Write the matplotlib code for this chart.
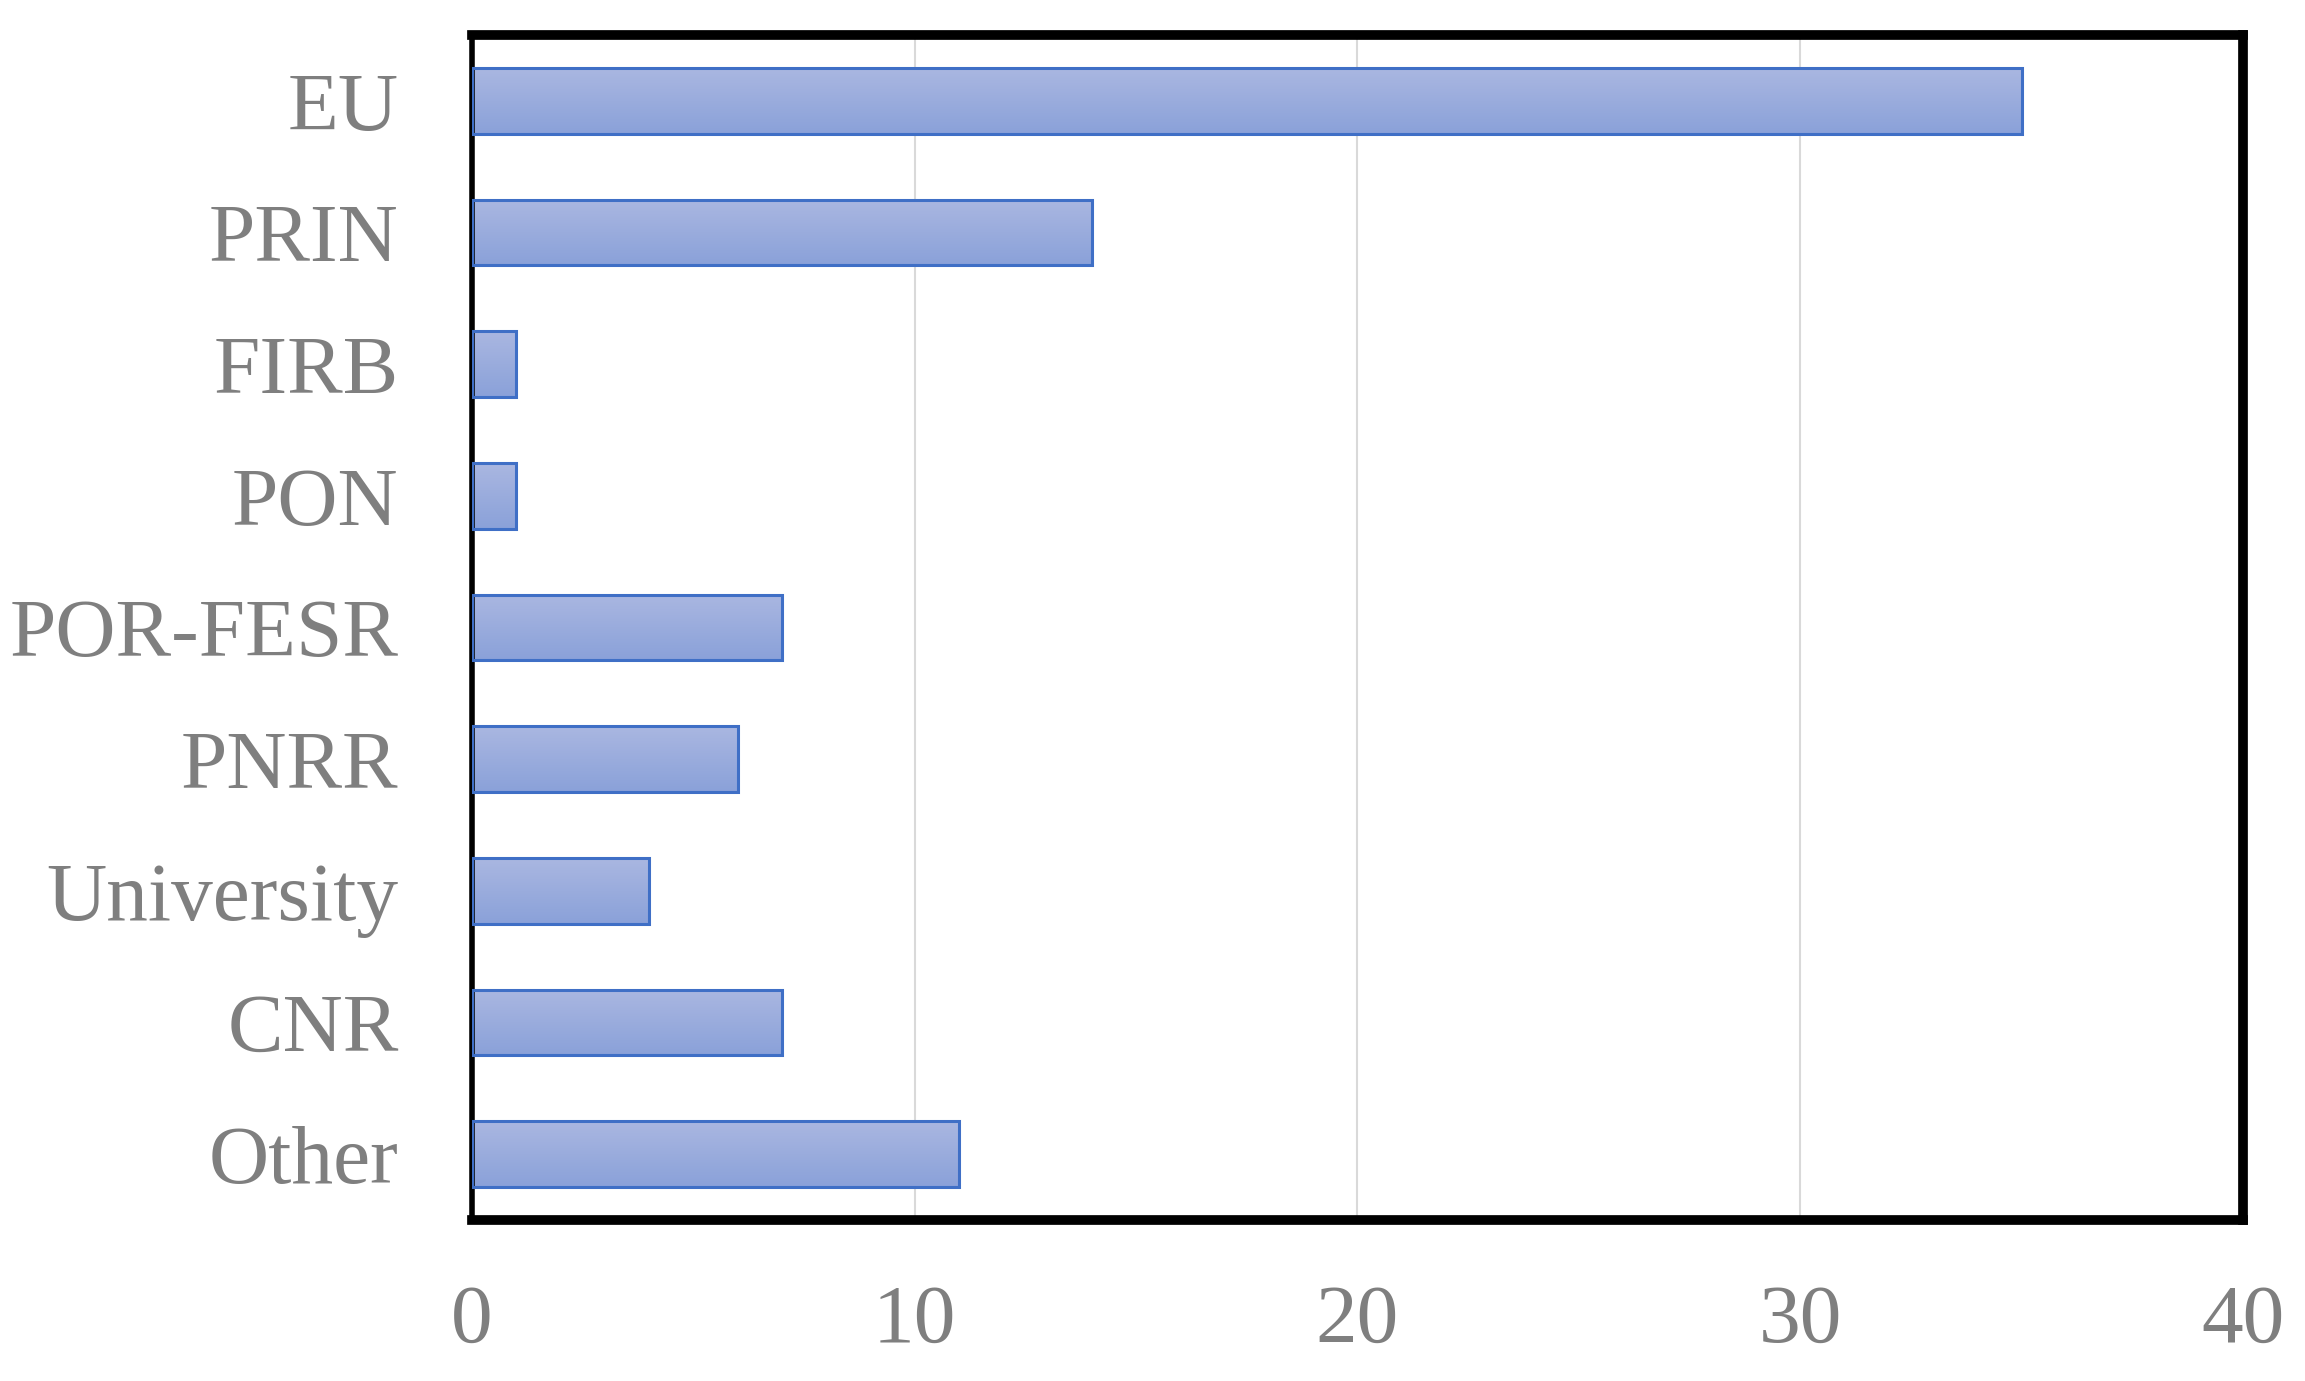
import numpy as np
import matplotlib
matplotlib.use("Agg")
import matplotlib.pyplot as plt
from matplotlib.colors import LinearSegmentedColormap

categories = ["EU", "PRIN", "FIRB", "PON", "POR-FESR", "PNRR", "University", "CNR", "Other"]
values = [35, 14, 1, 1, 7, 6, 4, 7, 11]
xticks = [0, 10, 20, 30, 40]

plt.rcParams['font.family'] = ['Liberation Serif', 'DejaVu Serif']

fig = plt.figure(figsize=(23.05, 13.81), dpi=100)
ax = fig.add_axes([472/2305, 1 - 1220/1381, (2243-472)/2305, (1220-35)/1381])

y = np.arange(len(categories))
h = 0.5
grad = np.linspace(0, 1, 256).reshape(-1, 1)
cmap = LinearSegmentedColormap.from_list("g", ["#aab7e1", "#8aa1d9"])

bars = ax.barh(y, values, height=h, color="none", edgecolor="#3f6fc6", linewidth=2.2, zorder=3)
for b in bars:
    x0, y0 = b.get_x(), b.get_y()
    w, hh = b.get_width(), b.get_height()
    im = ax.imshow(grad, extent=[x0, x0 + w, y0 + hh, y0], aspect='auto', cmap=cmap,
                   origin='upper', zorder=2)
    im.set_clip_path(b)

ax.set_xlim(0, 40)
ax.set_ylim(len(categories) - 0.5, -0.5)
ax.set_xticks(xticks)
ax.set_xticklabels([str(t) for t in xticks])
ax.set_yticks(y)
ax.set_yticklabels(categories)
ax.xaxis.grid(True, color="#d9d9d9", linewidth=1.5, zorder=0)
ax.set_axisbelow(True)
ax.tick_params(axis='both', length=0, labelsize=60, colors="#7f7f7f")
ax.tick_params(axis='y', pad=53)
ax.tick_params(axis='x', pad=46)
for s in ["top", "right", "bottom"]:
    ax.spines[s].set_linewidth(7)
    ax.spines[s].set_color("black")
ax.spines["left"].set_linewidth(4)
ax.spines["left"].set_color("black")

fig.savefig("out.png", dpi=100)
